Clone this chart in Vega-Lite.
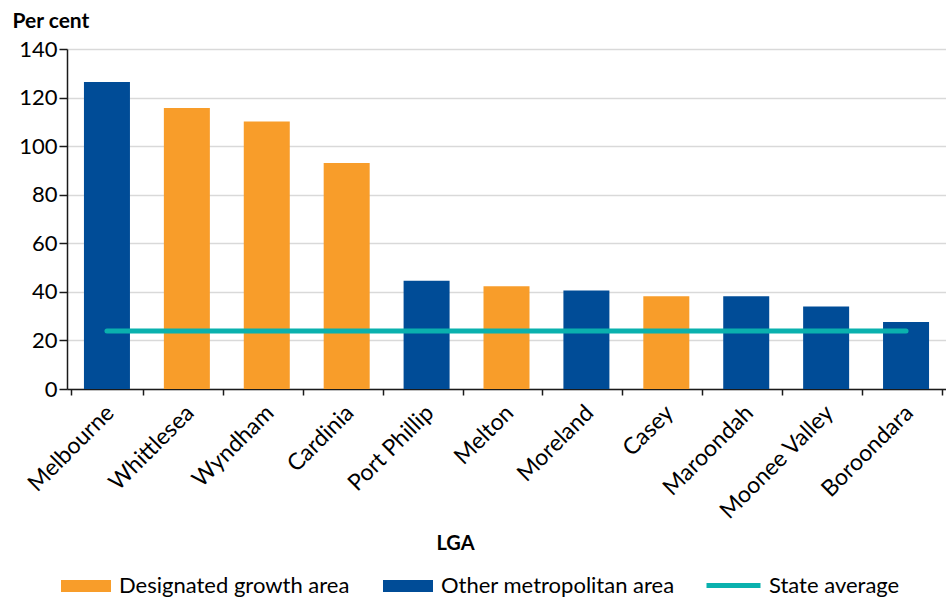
{
  "$schema": "https://vega.github.io/schema/vega-lite/v6.json",
  "width": 879,
  "height": 340,
  "autosize": {"type": "none"},
  "padding": {"left": 67, "top": 49, "right": 0, "bottom": 209},
  "config": {
    "font": "Lato",
    "view": {"stroke": null},
    "axis": {
      "domainColor": "#1a1a1a",
      "domainWidth": 1.5,
      "tickColor": "#1a1a1a",
      "tickWidth": 1.5,
      "labelColor": "#000000",
      "titleColor": "#000000"
    },
    "legend": {"labelColor": "#000000", "labelFont": "Lato"}
  },
  "data": {
    "values": [
      {"lga": "Melbourne", "area": "Other metropolitan area", "pct": 126.4, "state": 23.9},
      {"lga": "Whittlesea", "area": "Designated growth area", "pct": 115.7, "state": 23.9},
      {"lga": "Wyndham", "area": "Designated growth area", "pct": 110.1, "state": 23.9},
      {"lga": "Cardinia", "area": "Designated growth area", "pct": 93.1, "state": 23.9},
      {"lga": "Port Phillip", "area": "Other metropolitan area", "pct": 44.6, "state": 23.9},
      {"lga": "Melton", "area": "Designated growth area", "pct": 42.3, "state": 23.9},
      {"lga": "Moreland", "area": "Other metropolitan area", "pct": 40.6, "state": 23.9},
      {"lga": "Casey", "area": "Designated growth area", "pct": 38.2, "state": 23.9},
      {"lga": "Maroondah", "area": "Other metropolitan area", "pct": 38.2, "state": 23.9},
      {"lga": "Moonee Valley", "area": "Other metropolitan area", "pct": 34.0, "state": 23.9},
      {"lga": "Boroondara", "area": "Other metropolitan area", "pct": 27.6, "state": 23.9}
    ]
  },
  "encoding": {
    "x": {
      "field": "lga",
      "type": "nominal",
      "sort": null,
      "axis": {
        "title": "LGA",
        "titleFontSize": 20,
        "titleFontWeight": "bold",
        "titleX": 388,
        "titleY": 160,
        "titleBaseline": "alphabetic",
        "labelAngle": -45,
        "labelAlign": "right",
        "labelBaseline": "middle",
        "labelFontSize": 23,
        "labelPadding": 14,
        "labelOffset": 3,
        "tickBand": "extent",
        "tickSize": 6,
        "grid": false
      }
    }
  },
  "layer": [
    {
      "mark": {"type": "bar", "width": 46},
      "encoding": {
        "y": {
          "field": "pct",
          "type": "quantitative",
          "scale": {"domain": [0, 140]},
          "axis": {
            "title": "Per cent",
            "titleAngle": 0,
            "titleAlign": "left",
            "titleBaseline": "alphabetic",
            "titleX": -55,
            "titleY": -22,
            "titleFontSize": 21,
            "titleFontWeight": "bold",
            "values": [0, 20, 40, 60, 80, 100, 120, 140],
            "labelFontSize": 22,
            "labelPadding": 2,
            "tickSize": 8,
            "grid": true,
            "gridColor": "#d9d9d9",
            "gridWidth": 1.5
          }
        },
        "color": {
          "field": "area",
          "type": "nominal",
          "scale": {
            "domain": ["Designated growth area", "Other metropolitan area"],
            "range": ["#f89d2a", "#004c97"]
          },
          "legend": {
            "title": null,
            "orient": "none",
            "direction": "horizontal",
            "legendX": -6,
            "legendY": 512,
            "symbolType": "M-1,-0.24H1V0.24H-1Z",
            "symbolSize": 2500,
            "symbolStrokeWidth": 0,
            "labelFontSize": 22,
            "labelOffset": 8,
            "columnPadding": 33,
            "labelLimit": 400
          }
        }
      }
    },
    {
      "mark": {"type": "line", "strokeWidth": 5, "strokeCap": "round"},
      "encoding": {
        "y": {"field": "state", "type": "quantitative"},
        "stroke": {
          "datum": "State average",
          "type": "nominal",
          "scale": {"range": ["#0ab1ae"]},
          "legend": {
            "title": null,
            "orient": "none",
            "direction": "horizontal",
            "legendX": 637,
            "legendY": 507,
            "symbolType": "stroke",
            "symbolSize": 2916,
            "symbolStrokeWidth": 5,
            "labelFontSize": 22,
            "labelOffset": 6,
            "labelLimit": 400
          }
        }
      }
    }
  ]
}
